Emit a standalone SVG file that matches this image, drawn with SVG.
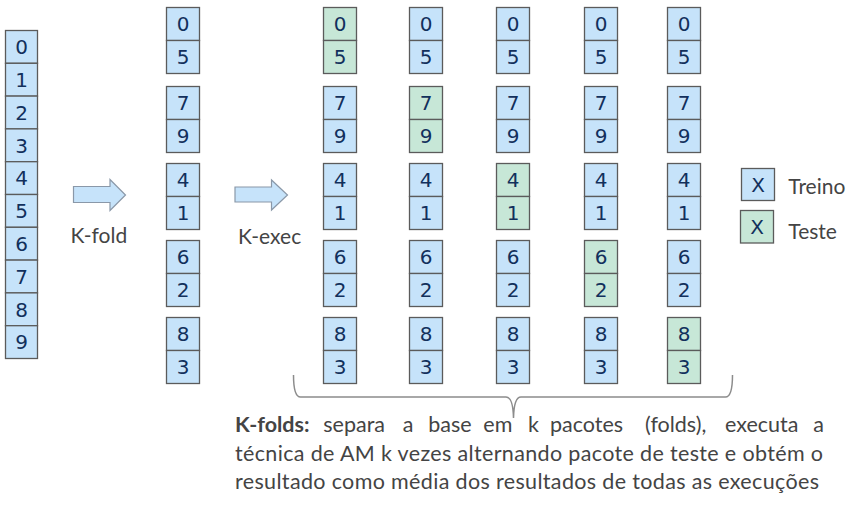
<svg xmlns="http://www.w3.org/2000/svg" width="862" height="511" viewBox="0 0 862 511">
<style>
.tr{fill:#C6E3FA;stroke:#5B5B5B;stroke-width:1.3}
.te{fill:#C7E7D7;stroke:#5B5B5B;stroke-width:1.3}
.d{font-family:"DejaVu Sans",Verdana,sans-serif;font-size:20px;fill:#12305C;text-anchor:middle}
.lb{font-family:Lato,"Open Sans",sans-serif;font-size:21px;fill:#444444}
.p{font-family:Lato,"Open Sans",sans-serif;font-size:21.5px;fill:#444444}
.arr{fill:#C6E3FA;stroke:#8A98A8;stroke-width:1.2}
.br{fill:none;stroke:#8C8C8C;stroke-width:1.5}
</style>

<g id="dataset">
<rect class="tr" x="5.5" y="30.5" width="32" height="32.8"/><text class="d" x="21.5" y="54.2">0</text>
<rect class="tr" x="5.5" y="63.3" width="32" height="32.8"/><text class="d" x="21.5" y="87">1</text>
<rect class="tr" x="5.5" y="96.1" width="32" height="32.8"/><text class="d" x="21.5" y="119.8">2</text>
<rect class="tr" x="5.5" y="128.9" width="32" height="32.8"/><text class="d" x="21.5" y="152.6">3</text>
<rect class="tr" x="5.5" y="161.7" width="32" height="32.8"/><text class="d" x="21.5" y="185.4">4</text>
<rect class="tr" x="5.5" y="194.5" width="32" height="32.8"/><text class="d" x="21.5" y="218.2">5</text>
<rect class="tr" x="5.5" y="227.3" width="32" height="32.8"/><text class="d" x="21.5" y="251">6</text>
<rect class="tr" x="5.5" y="260.1" width="32" height="32.8"/><text class="d" x="21.5" y="283.8">7</text>
<rect class="tr" x="5.5" y="292.9" width="32" height="32.8"/><text class="d" x="21.5" y="316.6">8</text>
<rect class="tr" x="5.5" y="325.7" width="32" height="32.8"/><text class="d" x="21.5" y="349.4">9</text>
</g>

<g id="connectors">
<path class="arr" d="M73.5,186.5 H110 V179.5 L125.5,195 L110,210.5 V202.5 H73.5 Z"/>
<path class="arr" d="M235,187 H271.5 V180 L287.5,195 L271.5,210 V202 H235 Z"/>
<path class="br" d="M293.5,375 Q293.5,397 300.5,397 H506 Q513,397 513.5,418 Q514,397 521,397 H725.5 Q732.5,397 732.5,375"/>
</g>

<g id="label-kfold"><text class="lb" x="70.5" y="242.7">K-fold</text></g>
<g id="label-kexec"><text class="lb" x="238" y="244">K-exec</text></g>

<g id="folds">
<g id="f-0-5"><rect class="tr" x="166.5" y="7.5" width="33" height="33"/><rect class="tr" x="166.5" y="40.5" width="33" height="33"/><text class="d" x="183" y="31.3">0</text><text class="d" x="183" y="64.3">5</text></g>
<g id="f-7-9"><rect class="tr" x="166.5" y="86.5" width="33" height="33"/><rect class="tr" x="166.5" y="119.5" width="33" height="33"/><text class="d" x="183" y="110.3">7</text><text class="d" x="183" y="143.3">9</text></g>
<g id="f-4-1"><rect class="tr" x="166.5" y="163.5" width="33" height="33"/><rect class="tr" x="166.5" y="196.5" width="33" height="33"/><text class="d" x="183" y="187.3">4</text><text class="d" x="183" y="220.3">1</text></g>
<g id="f-6-2"><rect class="tr" x="166.5" y="240.5" width="33" height="33"/><rect class="tr" x="166.5" y="273.5" width="33" height="33"/><text class="d" x="183" y="264.3">6</text><text class="d" x="183" y="297.3">2</text></g>
<g id="f-8-3"><rect class="tr" x="166.5" y="317.5" width="33" height="33"/><rect class="tr" x="166.5" y="350.5" width="33" height="33"/><text class="d" x="183" y="341.3">8</text><text class="d" x="183" y="374.3">3</text></g>
</g>

<g id="exec1">
<g id="e1-0-5"><rect class="te" x="323.5" y="7.5" width="33" height="33"/><rect class="te" x="323.5" y="40.5" width="33" height="33"/><text class="d" x="340" y="31.3">0</text><text class="d" x="340" y="64.3">5</text></g>
<g id="e1-7-9"><rect class="tr" x="323.5" y="86.5" width="33" height="33"/><rect class="tr" x="323.5" y="119.5" width="33" height="33"/><text class="d" x="340" y="110.3">7</text><text class="d" x="340" y="143.3">9</text></g>
<g id="e1-4-1"><rect class="tr" x="323.5" y="163.5" width="33" height="33"/><rect class="tr" x="323.5" y="196.5" width="33" height="33"/><text class="d" x="340" y="187.3">4</text><text class="d" x="340" y="220.3">1</text></g>
<g id="e1-6-2"><rect class="tr" x="323.5" y="240.5" width="33" height="33"/><rect class="tr" x="323.5" y="273.5" width="33" height="33"/><text class="d" x="340" y="264.3">6</text><text class="d" x="340" y="297.3">2</text></g>
<g id="e1-8-3"><rect class="tr" x="323.5" y="317.5" width="33" height="33"/><rect class="tr" x="323.5" y="350.5" width="33" height="33"/><text class="d" x="340" y="341.3">8</text><text class="d" x="340" y="374.3">3</text></g>
</g>

<g id="exec2">
<g id="e2-0-5"><rect class="tr" x="409.5" y="7.5" width="33" height="33"/><rect class="tr" x="409.5" y="40.5" width="33" height="33"/><text class="d" x="426" y="31.3">0</text><text class="d" x="426" y="64.3">5</text></g>
<g id="e2-7-9"><rect class="te" x="409.5" y="86.5" width="33" height="33"/><rect class="te" x="409.5" y="119.5" width="33" height="33"/><text class="d" x="426" y="110.3">7</text><text class="d" x="426" y="143.3">9</text></g>
<g id="e2-4-1"><rect class="tr" x="409.5" y="163.5" width="33" height="33"/><rect class="tr" x="409.5" y="196.5" width="33" height="33"/><text class="d" x="426" y="187.3">4</text><text class="d" x="426" y="220.3">1</text></g>
<g id="e2-6-2"><rect class="tr" x="409.5" y="240.5" width="33" height="33"/><rect class="tr" x="409.5" y="273.5" width="33" height="33"/><text class="d" x="426" y="264.3">6</text><text class="d" x="426" y="297.3">2</text></g>
<g id="e2-8-3"><rect class="tr" x="409.5" y="317.5" width="33" height="33"/><rect class="tr" x="409.5" y="350.5" width="33" height="33"/><text class="d" x="426" y="341.3">8</text><text class="d" x="426" y="374.3">3</text></g>
</g>

<g id="exec3">
<g id="e3-0-5"><rect class="tr" x="496.5" y="7.5" width="33" height="33"/><rect class="tr" x="496.5" y="40.5" width="33" height="33"/><text class="d" x="513" y="31.3">0</text><text class="d" x="513" y="64.3">5</text></g>
<g id="e3-7-9"><rect class="tr" x="496.5" y="86.5" width="33" height="33"/><rect class="tr" x="496.5" y="119.5" width="33" height="33"/><text class="d" x="513" y="110.3">7</text><text class="d" x="513" y="143.3">9</text></g>
<g id="e3-4-1"><rect class="te" x="496.5" y="163.5" width="33" height="33"/><rect class="te" x="496.5" y="196.5" width="33" height="33"/><text class="d" x="513" y="187.3">4</text><text class="d" x="513" y="220.3">1</text></g>
<g id="e3-6-2"><rect class="tr" x="496.5" y="240.5" width="33" height="33"/><rect class="tr" x="496.5" y="273.5" width="33" height="33"/><text class="d" x="513" y="264.3">6</text><text class="d" x="513" y="297.3">2</text></g>
<g id="e3-8-3"><rect class="tr" x="496.5" y="317.5" width="33" height="33"/><rect class="tr" x="496.5" y="350.5" width="33" height="33"/><text class="d" x="513" y="341.3">8</text><text class="d" x="513" y="374.3">3</text></g>
</g>

<g id="exec4">
<g id="e4-0-5"><rect class="tr" x="584.5" y="7.5" width="33" height="33"/><rect class="tr" x="584.5" y="40.5" width="33" height="33"/><text class="d" x="601" y="31.3">0</text><text class="d" x="601" y="64.3">5</text></g>
<g id="e4-7-9"><rect class="tr" x="584.5" y="86.5" width="33" height="33"/><rect class="tr" x="584.5" y="119.5" width="33" height="33"/><text class="d" x="601" y="110.3">7</text><text class="d" x="601" y="143.3">9</text></g>
<g id="e4-4-1"><rect class="tr" x="584.5" y="163.5" width="33" height="33"/><rect class="tr" x="584.5" y="196.5" width="33" height="33"/><text class="d" x="601" y="187.3">4</text><text class="d" x="601" y="220.3">1</text></g>
<g id="e4-6-2"><rect class="te" x="584.5" y="240.5" width="33" height="33"/><rect class="te" x="584.5" y="273.5" width="33" height="33"/><text class="d" x="601" y="264.3">6</text><text class="d" x="601" y="297.3">2</text></g>
<g id="e4-8-3"><rect class="tr" x="584.5" y="317.5" width="33" height="33"/><rect class="tr" x="584.5" y="350.5" width="33" height="33"/><text class="d" x="601" y="341.3">8</text><text class="d" x="601" y="374.3">3</text></g>
</g>

<g id="exec5">
<g id="e5-0-5"><rect class="tr" x="667.5" y="7.5" width="33" height="33"/><rect class="tr" x="667.5" y="40.5" width="33" height="33"/><text class="d" x="684" y="31.3">0</text><text class="d" x="684" y="64.3">5</text></g>
<g id="e5-7-9"><rect class="tr" x="667.5" y="86.5" width="33" height="33"/><rect class="tr" x="667.5" y="119.5" width="33" height="33"/><text class="d" x="684" y="110.3">7</text><text class="d" x="684" y="143.3">9</text></g>
<g id="e5-4-1"><rect class="tr" x="667.5" y="163.5" width="33" height="33"/><rect class="tr" x="667.5" y="196.5" width="33" height="33"/><text class="d" x="684" y="187.3">4</text><text class="d" x="684" y="220.3">1</text></g>
<g id="e5-6-2"><rect class="tr" x="667.5" y="240.5" width="33" height="33"/><rect class="tr" x="667.5" y="273.5" width="33" height="33"/><text class="d" x="684" y="264.3">6</text><text class="d" x="684" y="297.3">2</text></g>
<g id="e5-8-3"><rect class="te" x="667.5" y="317.5" width="33" height="33"/><rect class="te" x="667.5" y="350.5" width="33" height="33"/><text class="d" x="684" y="341.3">8</text><text class="d" x="684" y="374.3">3</text></g>
</g>

<g id="legend-treino"><rect class="tr" x="741.5" y="168.5" width="33" height="32"/><text class="d" x="758" y="192">X</text><text class="lb" x="788.3" y="193.7">Treino</text></g>
<g id="legend-teste"><rect class="te" x="740.5" y="210.5" width="33" height="32.5"/><text class="d" x="757" y="233.8">X</text><text class="lb" x="788.3" y="238.5">Teste</text></g>

<g id="description">
<text class="p" y="431.7"><tspan x="235" font-weight="bold">K-folds:</tspan><tspan x="323.3">separa</tspan><tspan x="402.7">a</tspan><tspan x="428.3">base</tspan><tspan x="483.3">em</tspan><tspan x="528">k</tspan><tspan x="550">pacotes</tspan><tspan x="645">(folds),</tspan><tspan x="725">executa</tspan><tspan x="813.3">a</tspan></text>
<text class="p" x="235" y="460.7" textLength="588" lengthAdjust="spacing">técnica de AM k vezes alternando pacote de teste e obtém o</text>
<text class="p" x="235" y="489.3" textLength="584" lengthAdjust="spacing">resultado como média dos resultados de todas as execuções</text>
</g>
</svg>
